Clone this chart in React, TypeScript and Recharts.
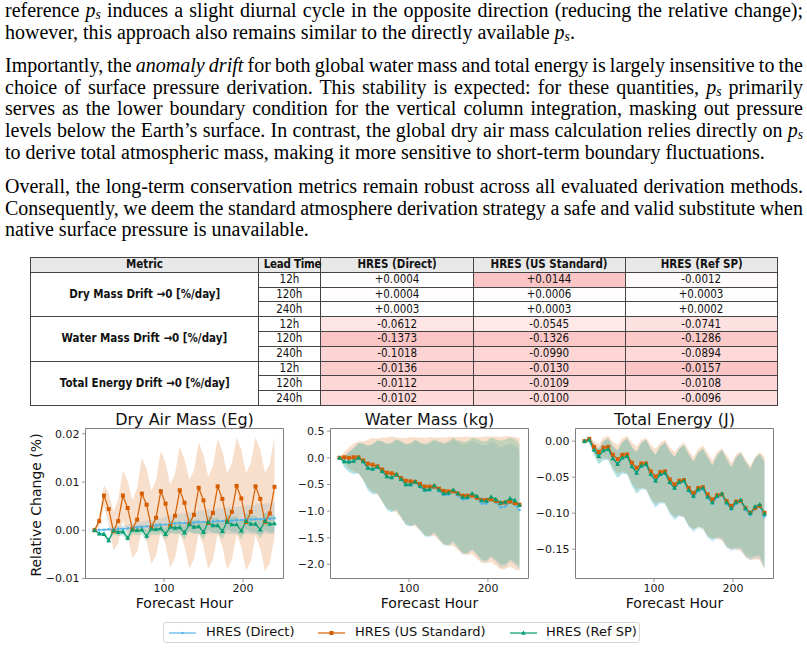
import React from 'react';
import { ComposedChart, Line, Area, XAxis, YAxis, ReferenceArea } from 'recharts';

// Forecast lead times (hours)
const hours = [
  12, 18, 24, 30, 36, 42, 48, 54, 60, 66, 72, 78, 84, 90, 96, 102, 108, 114, 120, 126,
  132, 138, 144, 150, 156, 162, 168, 174, 180, 186, 192, 198, 204, 210, 216, 222, 228, 234, 240,
];

// Dry air mass, relative change (%)
const dryDirect = [
  0, 0.0001, 0.0001, 0.0002, 0.0002, 0.0003, 0.0003, 0.0004, 0.0005, 0.0006, 0.0007, 0.0008,
  0.0009, 0.001, 0.0011, 0.0012, 0.0013, 0.0014, 0.0015, 0.0015, 0.0016, 0.0016, 0.0017, 0.0017,
  0.0018, 0.0018, 0.0019, 0.0019, 0.002, 0.002, 0.0021, 0.0021, 0.0022, 0.0022, 0.0023, 0.0023,
  0.0024, 0.0024, 0.0025,
];
const dryUS = [
  0, 0.0019, 0.0072, 0.0044, -0.0002, 0.0019, 0.0072, 0.0046, 0.0002, 0.0022, 0.0076, 0.0053,
  0.0006, 0.0026, 0.0081, 0.0055, 0.0009, 0.003, 0.0083, 0.0057, 0.0013, 0.0032, 0.0088, 0.0062,
  0.0015, 0.0036, 0.0091, 0.0065, 0.0018, 0.0038, 0.0092, 0.0066, 0.0017, 0.0038, 0.0091, 0.0065,
  0.0017, 0.0035, 0.009,
];
const dryRef = [
  0, -0.0007, -0.0008, -0.0021, -0.0001, -0.0004, -0.0003, -0.0016, 0.0001, 0, 0.0001, -0.0012,
  0.0003, 0.0002, 0.0004, -0.0008, 0.0007, 0.0005, 0.0006, -0.0005, 0.0012, 0.0007, 0.0008, -0.0004,
  0.0016, 0.001, 0.001, -0.0002, 0.0018, 0.0012, 0.0012, -0.0001, 0.0019, 0.0013, 0.0013, 0.0001,
  0.0019, 0.0013, 0.0014,
];
const dryDirectSd = [
  0, 0.0002, 0.0003, 0.0004, 0.0005, 0.0006, 0.0007, 0.0008, 0.0009, 0.001, 0.0011, 0.0012,
  0.0013, 0.0014, 0.0015, 0.0016, 0.0017, 0.0018, 0.0019, 0.002, 0.0021, 0.0022, 0.0023, 0.0024,
  0.0025, 0.0025, 0.0026, 0.0027, 0.0027, 0.0028, 0.0028, 0.0029, 0.0029, 0.003, 0.003, 0.0031,
  0.0031, 0.0032, 0.0033,
];
const dryUSSd = [
  0, 0.0012, 0.0022, 0.0032, 0.004, 0.0046, 0.0052, 0.0056, 0.006, 0.0066, 0.0074, 0.0075,
  0.0076, 0.0079, 0.0084, 0.0085, 0.0086, 0.0087, 0.0089, 0.009, 0.0092, 0.0092, 0.0094, 0.0095,
  0.0096, 0.0097, 0.0098, 0.0099, 0.01, 0.01, 0.0101, 0.0101, 0.0101, 0.0102, 0.0102, 0.0102,
  0.0102, 0.0103, 0.0104,
];
const dryRefSd = [
  0, 0.0004, 0.0005, 0.0006, 0.0007, 0.0008, 0.0008, 0.0009, 0.0009, 0.001, 0.001, 0.0011,
  0.0011, 0.0012, 0.0012, 0.0012, 0.0013, 0.0013, 0.0013, 0.0014, 0.0014, 0.0014, 0.0015, 0.0015,
  0.0015, 0.0015, 0.0016, 0.0016, 0.0016, 0.0016, 0.0017, 0.0017, 0.0017, 0.0017, 0.0017, 0.0018,
  0.0018, 0.0018, 0.0018,
];

// Water mass, relative change (%)
const waterDirect = [
  0, -0.07, -0.08, -0.06, -0.01, -0.08, -0.2, -0.22, -0.18, -0.26, -0.36, -0.38,
  -0.32, -0.41, -0.51, -0.52, -0.46, -0.55, -0.62, -0.62, -0.55, -0.63, -0.7, -0.69,
  -0.63, -0.71, -0.78, -0.77, -0.71, -0.77, -0.86, -0.86, -0.78, -0.84, -0.93, -0.91,
  -0.84, -0.88, -0.98,
];
const waterUS = [
  0, 0.01, 0, 0.01, 0.01, -0.05, -0.11, -0.13, -0.16, -0.22, -0.28, -0.29,
  -0.32, -0.38, -0.43, -0.44, -0.45, -0.49, -0.54, -0.54, -0.54, -0.58, -0.62, -0.63,
  -0.63, -0.67, -0.71, -0.71, -0.71, -0.75, -0.79, -0.79, -0.78, -0.81, -0.85, -0.84,
  -0.82, -0.85, -0.88,
];
const waterRef = [
  0, -0.07, -0.075, -0.06, 0, -0.07, -0.19, -0.21, -0.17, -0.25, -0.35, -0.37,
  -0.31, -0.4, -0.5, -0.5, -0.45, -0.53, -0.6, -0.59, -0.52, -0.6, -0.67, -0.66,
  -0.6, -0.67, -0.74, -0.74, -0.67, -0.72, -0.8, -0.81, -0.73, -0.78, -0.84, -0.83,
  -0.76, -0.8, -0.89,
];
const waterDirectSd = [
  0, 0.11, 0.2, 0.25, 0.29, 0.34, 0.42, 0.47, 0.5, 0.56, 0.62, 0.65,
  0.66, 0.71, 0.76, 0.78, 0.79, 0.82, 0.86, 0.88, 0.87, 0.91, 0.95, 0.97,
  0.97, 1.0, 1.03, 1.04, 1.03, 1.06, 1.09, 1.1, 1.09, 1.11, 1.13, 1.14,
  1.11, 1.12, 1.12,
];
const waterUSSd = [
  0, 0.1, 0.2, 0.26, 0.3, 0.36, 0.45, 0.5, 0.52, 0.6, 0.66, 0.69,
  0.7, 0.75, 0.8, 0.83, 0.83, 0.87, 0.91, 0.93, 0.92, 0.96, 1.0, 1.02,
  1.02, 1.06, 1.1, 1.11, 1.1, 1.14, 1.18, 1.19, 1.18, 1.21, 1.24, 1.25,
  1.22, 1.24, 1.25,
];
const waterRefSd = [
  0, 0.1, 0.18, 0.24, 0.28, 0.34, 0.42, 0.47, 0.5, 0.56, 0.62, 0.65,
  0.66, 0.71, 0.76, 0.78, 0.79, 0.82, 0.86, 0.88, 0.87, 0.91, 0.95, 0.97,
  0.97, 1.0, 1.04, 1.05, 1.04, 1.08, 1.11, 1.12, 1.11, 1.13, 1.16, 1.17,
  1.14, 1.16, 1.16,
];

// Total energy, relative change (%)
const energyDirect = [
  0, 0.002, -0.012, -0.021, -0.013, -0.011, -0.024, -0.032, -0.023, -0.021, -0.035, -0.044,
  -0.035, -0.033, -0.047, -0.056, -0.047, -0.045, -0.058, -0.066, -0.058, -0.056, -0.069, -0.078,
  -0.069, -0.067, -0.079, -0.087, -0.078, -0.075, -0.087, -0.095, -0.087, -0.084, -0.096, -0.103,
  -0.094, -0.091, -0.105,
];
const energyUS = [
  0, 0.003, -0.008, -0.015, -0.009, -0.008, -0.019, -0.025, -0.019, -0.0185, -0.03, -0.037,
  -0.031, -0.031, -0.042, -0.049, -0.043, -0.042, -0.053, -0.06, -0.055, -0.054, -0.065, -0.072,
  -0.065, -0.064, -0.074, -0.081, -0.075, -0.074, -0.083, -0.09, -0.084, -0.083, -0.093, -0.0995,
  -0.093, -0.09, -0.0995,
];
const energyRef = [
  0, 0.002, -0.012, -0.021, -0.013, -0.011, -0.024, -0.032, -0.023, -0.021, -0.035, -0.044,
  -0.034, -0.032, -0.046, -0.055, -0.046, -0.044, -0.057, -0.065, -0.057, -0.055, -0.068, -0.076,
  -0.067, -0.065, -0.077, -0.085, -0.076, -0.073, -0.085, -0.093, -0.085, -0.082, -0.093, -0.1,
  -0.091, -0.088, -0.101,
];
const energyDirectSd = [
  0, 0.005, 0.008, 0.011, 0.013, 0.015, 0.017, 0.019, 0.022, 0.025, 0.027, 0.029,
  0.032, 0.035, 0.036, 0.037, 0.04, 0.043, 0.044, 0.044, 0.047, 0.05, 0.05, 0.049,
  0.052, 0.056, 0.056, 0.053, 0.058, 0.062, 0.062, 0.058, 0.064, 0.067, 0.066, 0.063,
  0.069, 0.072, 0.074,
];
const energyUSSd = [
  0, 0.005, 0.008, 0.011, 0.014, 0.016, 0.018, 0.02, 0.023, 0.026, 0.028, 0.03,
  0.033, 0.036, 0.037, 0.038, 0.041, 0.044, 0.045, 0.045, 0.048, 0.052, 0.052, 0.05,
  0.054, 0.058, 0.058, 0.054, 0.06, 0.064, 0.064, 0.06, 0.066, 0.069, 0.068, 0.065,
  0.071, 0.075, 0.078,
];
const energyRefSd = [
  0, 0.004, 0.008, 0.011, 0.013, 0.015, 0.017, 0.019, 0.022, 0.025, 0.027, 0.029,
  0.032, 0.034, 0.035, 0.036, 0.039, 0.042, 0.043, 0.043, 0.046, 0.05, 0.05, 0.048,
  0.052, 0.055, 0.055, 0.052, 0.057, 0.061, 0.061, 0.057, 0.063, 0.066, 0.065, 0.062,
  0.068, 0.071, 0.074,
];

// Drift table
const metricLabels = ['Dry Mass Drift →0 [%/day]', 'Water Mass Drift →0 [%/day]', 'Total Energy Drift →0 [%/day]'];
const leadTimes = ['12h', '120h', '240h'];
const methodNames = ['HRES (Direct)', 'HRES (US Standard)', 'HRES (Ref SP)'];
const driftDirect = [0.0004, 0.0004, 0.0003, -0.0612, -0.1373, -0.1018, -0.0136, -0.0112, -0.0102];
const driftUS = [0.0144, 0.0006, 0.0003, -0.0545, -0.1326, -0.099, -0.013, -0.0109, -0.01];
const driftRef = [-0.0012, 0.0003, 0.0002, -0.0741, -0.1286, -0.0894, -0.0157, -0.0108, -0.0096];

const C_DIRECT = '#56B4E9';
const C_US = '#D55E00';
const C_REF = '#009E73';
const FRAME = '#7f7f7f';
const SANS = "'DejaVu Sans', sans-serif";
const SERIF = "'Liberation Serif', 'Times New Roman', serif";

function buildRows(direct: number[], us: number[], ref: number[], dSd: number[], uSd: number[], rSd: number[]) {
  return hours.map((h, i) => ({
    h,
    direct: direct[i],
    us: us[i],
    ref: ref[i],
    directBand: [direct[i] - dSd[i], direct[i] + dSd[i]],
    usBand: [us[i] - uSd[i], us[i] + uSd[i]],
    refBand: [ref[i] - rSd[i], ref[i] + rSd[i]],
  }));
}

const dryRows = buildRows(dryDirect, dryUS, dryRef, dryDirectSd, dryUSSd, dryRefSd);
const waterRows = buildRows(waterDirect, waterUS, waterRef, waterDirectSd, waterUSSd, waterRefSd);
const energyRows = buildRows(energyDirect, energyUS, energyRef, energyDirectSd, energyUSSd, energyRefSd);

const signed = (digits: number) => (v: number) => (v < 0 ? '\u2212' : '') + Math.abs(v).toFixed(digits);

const pointDot = (props: any) => {
  const { cx, cy, index } = props;
  if (cx == null || cy == null) return <g key={`p${index}`} />;
  return <circle key={`p${index}`} cx={cx} cy={cy} r={1.3} fill={C_DIRECT} />;
};
const squareDot = (props: any) => {
  const { cx, cy, index } = props;
  if (cx == null || cy == null) return <g key={`s${index}`} />;
  return <rect key={`s${index}`} x={cx - 2} y={cy - 2} width={4} height={4} fill={C_US} />;
};
const triangleDot = (props: any) => {
  const { cx, cy, index } = props;
  if (cx == null || cy == null) return <g key={`t${index}`} />;
  return <polygon key={`t${index}`} points={`${cx},${cy - 2.6} ${cx - 2.4},${cy + 1.8} ${cx + 2.4},${cy + 1.8}`} fill={C_REF} />;
};

const X_DOMAIN: [number, number] = [0.6, 251.4];
const PLOT_W = 198;
const PLOT_H = 150;
const TOP = 23.5;

type PanelProps = {
  left: number;
  width: number;
  axisWidth: number;
  title: string;
  rows: any[];
  domain: [number, number];
  ticks: number[];
  digits: number;
};

function Panel({ left, width, axisWidth, title, rows, domain, ticks, digits }: PanelProps) {
  const height = 210;
  const tickStyle = { fill: '#1a1a1a', fontSize: 11, fontFamily: SANS };
  return (
    <div style={{ position: 'absolute', left, top: 405, width, height }}>
      <ComposedChart
        width={width}
        height={height}
        data={rows}
        margin={{ top: TOP, right: width - axisWidth - PLOT_W, bottom: 0, left: 0 }}
      >
        <XAxis
          dataKey="h"
          type="number"
          domain={X_DOMAIN}
          ticks={[100, 200]}
          allowDataOverflow
          height={height - TOP - PLOT_H}
          axisLine={false}
          tickLine={{ stroke: FRAME, strokeWidth: 0.8 }}
          tickSize={3.5}
          tickMargin={2.6}
          tick={tickStyle}
        />
        <YAxis
          type="number"
          domain={domain}
          ticks={ticks}
          allowDataOverflow
          width={axisWidth}
          axisLine={false}
          tickLine={{ stroke: FRAME, strokeWidth: 0.8 }}
          tickSize={3.5}
          tickMargin={2.5}
          tick={tickStyle}
          tickFormatter={signed(digits)}
          interval={0}
        />
        <Line dataKey="direct" type="linear" stroke={C_DIRECT} strokeWidth={1.2} dot={pointDot} activeDot={false} isAnimationActive={false} />
        <Area dataKey="directBand" type="linear" stroke="none" fill={C_DIRECT} fillOpacity={0.2} dot={false} activeDot={false} isAnimationActive={false} />
        <Line dataKey="us" type="linear" stroke={C_US} strokeWidth={1.2} dot={squareDot} activeDot={false} isAnimationActive={false} />
        <Area dataKey="usBand" type="linear" stroke="none" fill={C_US} fillOpacity={0.2} dot={false} activeDot={false} isAnimationActive={false} />
        <Line dataKey="ref" type="linear" stroke={C_REF} strokeWidth={1.2} dot={triangleDot} activeDot={false} isAnimationActive={false} />
        <Area dataKey="refBand" type="linear" stroke="none" fill={C_REF} fillOpacity={0.2} dot={false} activeDot={false} isAnimationActive={false} />
        <ReferenceArea x1={X_DOMAIN[0]} x2={X_DOMAIN[1]} y1={domain[0]} y2={domain[1]} fill="none" stroke={FRAME} strokeWidth={1} ifOverflow="visible" />
      </ComposedChart>
      <div
        style={{
          position: 'absolute', left: axisWidth, top: 7.2, width: PLOT_W, textAlign: 'center',
          fontFamily: SANS, fontSize: 16, lineHeight: '16px', color: '#111', whiteSpace: 'nowrap',
        }}
      >
        {title}
      </div>
      <div
        style={{
          position: 'absolute', left: axisWidth, top: 191, width: PLOT_W, textAlign: 'center',
          fontFamily: SANS, fontSize: 14, lineHeight: '14px', color: '#111', whiteSpace: 'nowrap',
        }}
      >
        Forecast Hour
      </div>
    </div>
  );
}

const Ps = () => (
  <span style={{ whiteSpace: 'nowrap' }}>
    <i>p</i>
    <i style={{ fontSize: '0.68em', lineHeight: 0, verticalAlign: '-0.12em' }}>s</i>
  </span>
);

type LineProps = { top: number; last?: boolean; children: React.ReactNode };
// Justified paragraph lines; full lines start from tightened word spacing and are stretched to the measure
const TextLine = ({ top, last, children }: LineProps) => (
  <div
    style={{
      position: 'absolute', left: 5, top, width: 798, height: 21.7, lineHeight: '21.7px',
      fontFamily: SERIF, fontSize: 20, color: '#000', whiteSpace: 'nowrap',
      wordSpacing: last ? 0 : '-3px',
      textAlign: last ? 'left' : 'justify', textAlignLast: last ? 'left' : 'justify',
    }}
  >
    {children}
  </div>
);

function pinkFor(v: number, groupMax: number) {
  const t = Math.min(1, Math.abs(v) / groupMax);
  const gb = Math.round(255 - 58 * t);
  const r = Math.round(255 - 3 * t);
  return `rgb(${r},${gb},${gb})`;
}

const fmtDrift = (v: number) => (v >= 0 ? '+' : '-') + Math.abs(v).toFixed(4);

const Narrow = ({ children }: { children: React.ReactNode }) => (
  <span style={{ display: 'inline-block', transform: 'scaleX(0.86)', transformOrigin: 'center' }}>{children}</span>
);

function DriftTable() {
  const cols = [228.4, 61.5, 152.9, 151.9, 152.4];
  const cell: React.CSSProperties = {
    border: '1px solid #444', padding: 0, textAlign: 'center', height: 13.8,
    lineHeight: '13px', fontSize: 12, fontFamily: SANS,
    color: '#111', whiteSpace: 'nowrap', overflow: 'visible',
  };
  const methods = [driftDirect, driftUS, driftRef];
  return (
    <table
      style={{
        position: 'absolute', left: 30, top: 257, width: 747, borderCollapse: 'collapse', tableLayout: 'fixed',
      }}
    >
      <colgroup>
        {cols.map((w, i) => <col key={i} style={{ width: w }} />)}
      </colgroup>
      <thead>
        <tr>
          {['Metric', 'Lead Time', ...methodNames].map((t) => (
            <th
              key={t}
              style={{ ...cell, background: '#e8e8e8', fontWeight: 'bold', letterSpacing: t === 'Lead Time' ? '-0.3px' : 0 }}
            >
              <Narrow>{t}</Narrow>
            </th>
          ))}
        </tr>
      </thead>
      <tbody>
        {metricLabels.map((m, g) => {
          const idx = [g * 3, g * 3 + 1, g * 3 + 2];
          const groupMax = Math.max(...methods.flatMap((arr) => idx.map((k) => Math.abs(arr[k]))));
          return leadTimes.map((lt, r) => {
            const k = g * 3 + r;
            return (
              <tr key={`${g}-${r}`}>
                {r === 0 && (
                  <td rowSpan={3} style={{ ...cell, fontWeight: 'bold', background: '#fff' }}><Narrow>{m}</Narrow></td>
                )}
                <td style={{ ...cell, background: '#fff' }}><Narrow>{lt}</Narrow></td>
                {methods.map((arr, j) => (
                  <td key={j} style={{ ...cell, background: pinkFor(arr[k], groupMax) }}><Narrow>{fmtDrift(arr[k])}</Narrow></td>
                ))}
              </tr>
            );
          });
        })}
      </tbody>
    </table>
  );
}

function LegendBox() {
  const items = [
    { label: methodNames[0], color: C_DIRECT, x: 5, tx: 42, marker: 'point' },
    { label: methodNames[1], color: C_US, x: 153.7, tx: 191, marker: 'square' },
    { label: methodNames[2], color: C_REF, x: 346, tx: 382, marker: 'triangle' },
  ];
  return (
    <div
      style={{
        position: 'absolute', left: 163, top: 621.5, width: 477, height: 21, border: '1px solid #d6d6d6',
        borderRadius: 3, background: '#fff', boxSizing: 'border-box',
      }}
    >
      {items.map((it) => (
        <React.Fragment key={it.label}>
          <svg style={{ position: 'absolute', left: it.x, top: 5 }} width={28} height={10}>
            <line x1={0} y1={5} x2={27} y2={5} stroke={it.color} strokeWidth={1.2} />
            {it.marker === 'point' && <circle cx={13.5} cy={5} r={1.3} fill={it.color} />}
            {it.marker === 'square' && <rect x={11.5} y={3} width={4} height={4} fill={it.color} />}
            {it.marker === 'triangle' && <polygon points="13.5,2.4 11.1,6.8 15.9,6.8" fill={it.color} />}
          </svg>
          <div
            style={{
              position: 'absolute', left: it.tx, top: 2.5, fontFamily: SANS, fontSize: 13, lineHeight: '13px',
              color: '#111', whiteSpace: 'nowrap',
            }}
          >
            {it.label}
          </div>
        </React.Fragment>
      ))}
    </div>
  );
}

export default function App() {
  return (
    <div style={{ position: 'absolute', left: 0, top: 0, width: 807, height: 650, background: '#fff', overflow: 'hidden' }}>
      <TextLine top={0}>
        reference <Ps /> induces a slight diurnal cycle in the opposite direction (reducing the relative change);
      </TextLine>
      <TextLine top={21.7} last>
        however, this approach also remains similar to the directly available <Ps />.
      </TextLine>

      <TextLine top={55}>
        Importantly, the <i>anomaly drift</i> for both global water mass and total energy is largely insensitive to the
      </TextLine>
      <TextLine top={76.7}>
        choice of surface pressure derivation. This stability is expected: for these quantities, <Ps /> primarily
      </TextLine>
      <TextLine top={98.4}>
        serves as the lower boundary condition for the vertical column integration, masking out pressure
      </TextLine>
      <TextLine top={120.1}>
        levels below the Earth’s surface. In contrast, the global dry air mass calculation relies directly on <Ps />
      </TextLine>
      <TextLine top={141.8} last>
        to derive total atmospheric mass, making it more sensitive to short-term boundary fluctuations.
      </TextLine>

      <TextLine top={176}>
        Overall, the long-term conservation metrics remain robust across all evaluated derivation methods.
      </TextLine>
      <TextLine top={197.7}>
        Consequently, we deem the standard atmosphere derivation strategy a safe and valid substitute when
      </TextLine>
      <TextLine top={219.4} last>
        native surface pressure is unavailable.
      </TextLine>

      <DriftTable />

      <Panel
        left={0} width={290} axisWidth={85.5} title="Dry Air Mass (Eg)" rows={dryRows}
        domain={[-0.01, 0.0211]} ticks={[-0.01, 0, 0.01, 0.02]} digits={2}
      />
      <Panel
        left={285} width={250} axisWidth={45.5} title="Water Mass (kg)" rows={waterRows}
        domain={[-2.264, 0.55]} ticks={[-2, -1.5, -1, -0.5, 0, 0.5]} digits={1}
      />
      <Panel
        left={530} width={250} axisWidth={45.5} title="Total Energy (J)" rows={energyRows}
        domain={[-0.1907, 0.0176]} ticks={[-0.15, -0.1, -0.05, 0]} digits={2}
      />
      <div
        style={{
          position: 'absolute', left: 36 - 100, top: 505 - 7, width: 200, height: 14, textAlign: 'center',
          fontFamily: SANS, fontSize: 14, lineHeight: '14px', color: '#111', transform: 'rotate(-90deg)',
          whiteSpace: 'nowrap',
        }}
      >
        Relative Change (%)
      </div>

      <LegendBox />
    </div>
  );
}
